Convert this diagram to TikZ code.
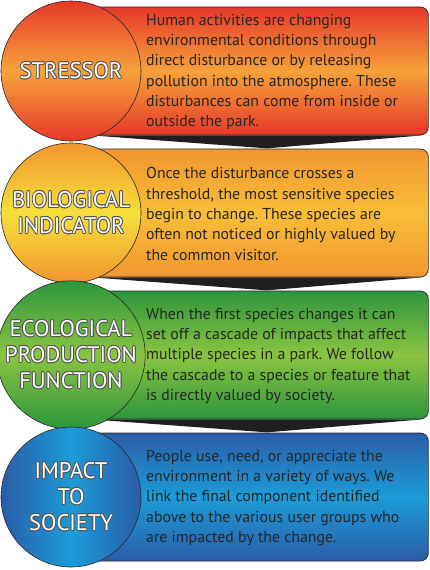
\documentclass[tikz,border=0pt]{standalone}
\usepackage{fontspec}
\setmainfont{PT Sans}
\usepackage{contour}
\contourlength{0.8pt}
\contournumber{12}
\usetikzlibrary{calc}
\frenchspacing

\definecolor{stressred}{RGB}{230,56,42}
\definecolor{stressorange}{RGB}{247,162,58}
\definecolor{bioorange}{RGB}{242,150,48}
\definecolor{biomid}{RGB}{249,190,56}
\definecolor{bioyellow}{RGB}{246,224,58}
\definecolor{ecodark}{RGB}{46,150,62}
\definecolor{ecolight}{RGB}{138,196,64}
\definecolor{impdark}{RGB}{42,92,168}
\definecolor{implight}{RGB}{28,156,216}
\definecolor{rim}{RGB}{85,85,85}

\newcommand{\rimtext}[1]{\contour{rim}{#1}}

\begin{document}
\begin{tikzpicture}[x=1pt,y=1pt,
  stage/.style={circle,draw=black!85,line width=0.6pt,minimum size=140pt,inner sep=0pt,
    align=center,text=white,font=\fontsize{22.5}{26}\selectfont},
  panel/.style={rectangle,rounded corners=8pt,draw=black!85,line width=0.7pt,
    minimum width=357pt,minimum height=128pt,anchor=west},
  note/.style={anchor=west,align=left,inner sep=0pt,text=black!85,
    font=\fontsize{15.8}{20.3}\selectfont},
  tab/.style={fill=black!88}]
\useasboundingbox (0,0) rectangle (430,-570);

% stressor
\node[panel,top color=stressred,bottom color=stressred,middle color=stressorange] (b1) at (71,-71) {};
\fill[tab] ($(b1.south west)+(20,0)$) -- ($(b1.south)+(17,-13)$) -- ($(b1.south east)+(-6,0)$) -- cycle;
\node[stage,top color=stressred,bottom color=stressred,middle color=stressorange] (c1) at (71,-71) {\rimtext{STRESSOR}};
\node[note] (t1) at (146,-72) {Human activities are changing\\environmental conditions through\\direct disturbance or by releasing\\pollution into the atmosphere. These\\disturbances can come from inside or\\outside the park.};

% biological indicator
\node[panel,top color=bioorange,bottom color=bioorange,middle color=biomid] (b2) at (71,-213) {};
\fill[tab] ($(b2.south west)+(20,0)$) -- ($(b2.south)+(17,-13)$) -- ($(b2.south east)+(-6,0)$) -- cycle;
\node[stage,top color=bioorange,bottom color=bioorange,middle color=bioyellow] (c2) at (71,-213) {\rimtext{BIOLOGICAL}\\\rimtext{INDICATOR}};
\node[note] (t2) at (146,-214) {Once the disturbance crosses a\\threshold, the most sensitive species\\begin to change. These species are\\often not noticed or highly valued by\\the common visitor.};

% ecological production function
\node[panel,top color=ecodark,bottom color=ecodark,middle color=ecolight] (b3) at (71,-355) {};
\fill[tab] ($(b3.south west)+(20,0)$) -- ($(b3.south)+(17,-13)$) -- ($(b3.south east)+(-6,0)$) -- cycle;
\node[stage,top color=ecodark,bottom color=ecodark,middle color=ecolight] (c3) at (71,-355) {\rimtext{ECOLOGICAL}\\\rimtext{PRODUCTION}\\\rimtext{FUNCTION}};
\node[note] (t3) at (146,-356) {When the first species changes it can\\set off a cascade of impacts that affect\\multiple species in a park. We follow\\the cascade to a species or feature that\\is directly valued by society.};

% impact to society
\node[panel,top color=impdark,bottom color=impdark,middle color=implight] (b4) at (71,-497) {};
\node[stage,left color=impdark,right color=impdark,middle color=implight] (c4) at (71,-497) {\rimtext{IMPACT}\\\rimtext{TO}\\\rimtext{SOCIETY}};
\node[note] (t4) at (146,-498) {People use, need, or appreciate the\\environment in a variety of ways. We\\link the final component identified\\above to the various user groups who\\are impacted by the change.};
\end{tikzpicture}
\end{document}
